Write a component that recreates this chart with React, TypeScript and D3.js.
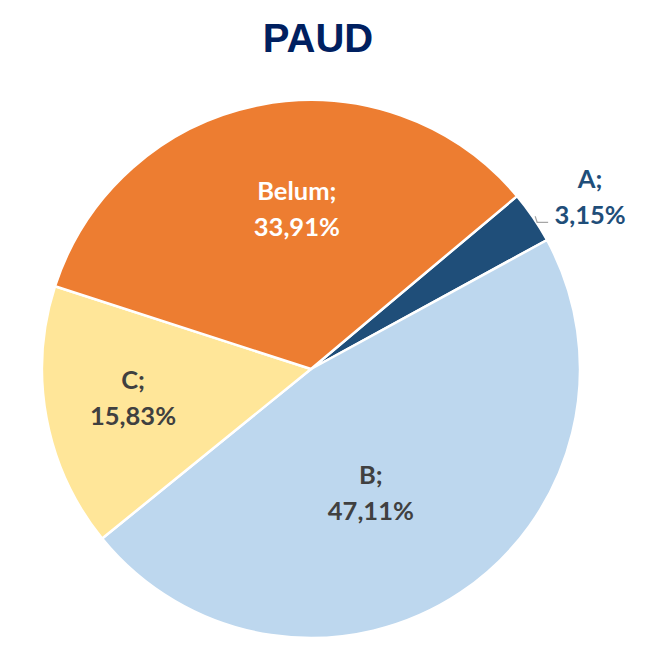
import React from "react"
import * as d3 from "d3"

const categories = ["A", "B", "C", "Belum"]
const values = [3.15, 47.11, 15.83, 33.91]
const valueLabels = ["3,15%", "47,11%", "15,83%", "33,91%"]
const colors = ["#1F4E79", "#BDD7EE", "#FFE699", "#ED7D31"]
const labelColors = ["#1F4E79", "#404040", "#404040", "#FFFFFF"]
// label placement: fraction of radius, angle shift in degrees
const labelRadius = [1.22, 0.51, 0.67, 0.6]
const labelShift = [2.6, 8, 1.5, 6]

const width = 658
const height = 653
const cx = 311
const cy = 369
const radius = 269
const startDeg = 50

export default function App() {
  const start = (startDeg * Math.PI) / 180
  const pie = d3.pie<number>().sort(null).value(d => d).startAngle(start).endAngle(start + 2 * Math.PI)
  const arcs = pie(values)
  const arc = d3.arc<d3.PieArcDatum<number>>().innerRadius(0).outerRadius(radius)

  const labelPoint = (i: number) => {
    const a = (arcs[i].startAngle + arcs[i].endAngle) / 2 + (labelShift[i] * Math.PI) / 180
    const r = radius * labelRadius[i]
    return [r * Math.sin(a), -r * Math.cos(a)]
  }

  return (
    <svg width={width} height={height} style={{ position: "fixed", left: 0, top: 0, background: "#fff" }}>
      <text x={318} y={52} textAnchor="middle" fontFamily="'Liberation Sans', Arial, sans-serif" fontWeight="bold" fontSize={40} fill="#002060">
        PAUD
      </text>
      <g transform={`translate(${cx},${cy})`}>
        {arcs.map((d, i) => (
          <path key={categories[i]} d={arc(d) || ""} fill={colors[i]} stroke="#fff" strokeWidth={2.5} strokeLinejoin="round" />
        ))}
        {(() => {
          const a = (arcs[0].startAngle + arcs[0].endAngle) / 2
          const p0 = [radius * Math.sin(a), -radius * Math.cos(a)]
          const [lx] = labelPoint(0)
          const p1 = [p0[0] + 4, p0[1] + 5]
          const p2 = [lx - 42, p1[1]]
          return (
            <polyline points={`${p0[0] + 2},${p0[1] - 1} ${p1[0]},${p1[1]} ${p2[0]},${p2[1]}`} fill="none" stroke="#A6A6A6" strokeWidth={1.2} />
          )
        })()}
        {arcs.map((d, i) => {
          const [x, y] = labelPoint(i)
          return (
            <text key={"l" + categories[i]} x={x} y={y} textAnchor="middle" fontFamily="Lato, 'Open Sans', sans-serif" fontWeight="bold" fontSize={25.5} fill={labelColors[i]}>
              <tspan x={x} dy={-8}>{categories[i] + ";"}</tspan>
              <tspan x={x} dy={36}>{valueLabels[i]}</tspan>
            </text>
          )
        })}
      </g>
    </svg>
  )
}
